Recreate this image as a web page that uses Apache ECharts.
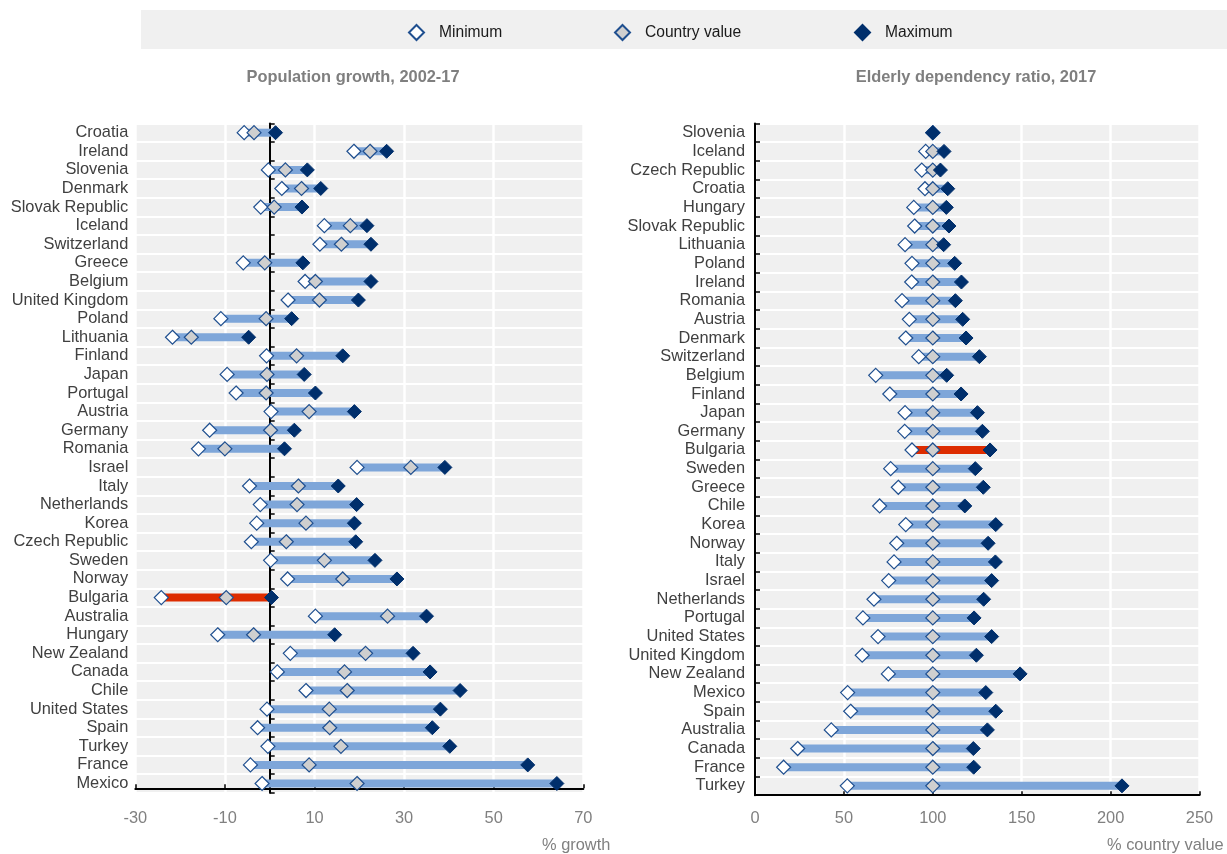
<!DOCTYPE html>
<html>
<head>
<meta charset="utf-8">
<script src="https://cdn.jsdelivr.net/npm/echarts@6/dist/echarts.min.js"></script>
<style>
  html, body { margin: 0; padding: 0; background: #fff; }
  #chart { width: 1227px; height: 854px; }
</style>
</head>
<body>
<div id="chart"></div>
<script>
// ---------------- DATA ----------------
const growthCategories = ['Croatia','Ireland','Slovenia','Denmark','Slovak Republic','Iceland','Switzerland','Greece','Belgium','United Kingdom','Poland','Lithuania','Finland','Japan','Portugal','Austria','Germany','Romania','Israel','Italy','Netherlands','Korea','Czech Republic','Sweden','Norway','Bulgaria','Australia','Hungary','New Zealand','Canada','Chile','United States','Spain','Turkey','France','Mexico'];
const growthMin     = [-5.7, 18.8, -0.3, 2.7, -2.0, 12.2, 11.2, -5.9, 7.9, 4.1, -10.9, -21.7, -0.7, -9.5, -7.5, 0.3, -13.4, -15.9, 19.5, -4.5, -2.1, -2.9, -4.1, 0.2, 4.0, -24.2, 10.2, -11.6, 4.6, 1.7, 8.1, -0.6, -2.7, -0.4, -4.3, -1.7];
const growthCountry = [-3.5, 22.4, 3.5, 7.1, 1.0, 18.0, 16.0, -1.1, 10.2, 11.1, -0.8, -17.5, 6.0, -0.6, -0.8, 8.8, 0.2, -10.0, 31.5, 6.4, 6.1, 8.1, 3.7, 12.2, 16.3, -9.7, 26.3, -3.6, 21.4, 16.7, 17.3, 13.3, 13.4, 15.9, 8.8, 19.5];
const growthMax     = [1.3, 26.1, 8.4, 11.4, 7.2, 21.7, 22.6, 7.4, 22.6, 19.8, 4.9, -4.7, 16.3, 7.7, 10.2, 18.9, 5.5, 3.3, 39.1, 15.3, 19.4, 18.9, 19.2, 23.5, 28.4, 0.4, 35.0, 14.5, 32.0, 35.8, 42.5, 38.1, 36.3, 40.2, 57.6, 64.1];

const elderlyCategories = ['Slovenia','Iceland','Czech Republic','Croatia','Hungary','Slovak Republic','Lithuania','Poland','Ireland','Romania','Austria','Denmark','Switzerland','Belgium','Finland','Japan','Germany','Bulgaria','Sweden','Greece','Chile','Korea','Norway','Italy','Israel','Netherlands','Portugal','United States','United Kingdom','New Zealand','Mexico','Spain','Australia','Canada','France','Turkey'];
const elderlyMin     = [100, 96.0, 93.8, 95.6, 89.3, 89.8, 84.4, 88.3, 88.1, 82.7, 86.8, 84.8, 92.1, 67.9, 75.8, 84.4, 84.2, 88.3, 76.3, 80.6, 70.1, 84.8, 79.7, 78.2, 75.2, 66.9, 60.7, 69.2, 60.3, 75.0, 52.1, 53.8, 42.9, 24.0, 16.1, 51.9];
const elderlyCountry = [100, 100, 100, 100, 100, 100, 100, 100, 100, 100, 100, 100, 100, 100, 100, 100, 100, 100, 100, 100, 100, 100, 100, 100, 100, 100, 100, 100, 100, 100, 100, 100, 100, 100, 100, 100];
const elderlyMax     = [100, 106.3, 104.3, 108.4, 107.6, 109.1, 106.1, 112.3, 116.1, 112.7, 116.8, 118.7, 126.2, 107.8, 115.9, 125.1, 127.9, 132.2, 123.9, 128.4, 118.0, 135.4, 131.1, 135.2, 133.1, 128.6, 123.2, 133.1, 124.5, 149.1, 129.8, 135.4, 130.7, 122.8, 123.0, 206.4];

const growthTicks  = [-30, -10, 10, 30, 50, 70];
const elderlyTicks = [0, 50, 100, 150, 200, 250];
const highlighted = ['Bulgaria'];
const seriesNames = ['Minimum', 'Country value', 'Maximum'];
const panelTitles = ['Population growth, 2002-17', 'Elderly dependency ratio, 2017'];
const axisNames = ['% growth', '% country value'];

// ---------------- FONT ----------------
function hasFont(name) {
  const ctx = document.createElement('canvas').getContext('2d');
  const t = 'United Kingdom mmmwwwiiilll 0123456789';
  ctx.font = '40px monospace';
  const a = ctx.measureText(t).width;
  ctx.font = "40px '" + name + "', monospace";
  const b = ctx.measureText(t).width;
  return Math.abs(a - b) > 0.5;
}
const narrow = hasFont('Liberation Sans Narrow');
const FONT = narrow ? "'Liberation Sans Narrow', 'Arial Narrow', sans-serif" : "'Liberation Sans', Arial, sans-serif";
const K = narrow ? 1 : 0.82;
const fs = v => Math.round(v * K * 10) / 10;

// ---------------- STYLE ----------------
const NAVY = '#002f6c';
const BORDER = '#1f4f8f';
const BLUE = '#7ea6d9';
const RED = '#dd2c00';
const GRAYFILL = '#cfcfcf';
const PLOTBG = '#f0f0f0';

const grids = [
  { left: 135.3, top: 123.4, width: 448, height: 669.4 },
  { left: 755, top: 123.4, width: 444.5, height: 671.8 }
];

function rangeRenderer(cats) {
  return function (params, api) {
    const idx = api.value(0);
    const p1 = api.coord([api.value(1), idx]);
    const p2 = api.coord([api.value(2), idx]);
    const h = 8;
    const isHi = highlighted.indexOf(cats[idx]) >= 0;
    return {
      type: 'rect',
      shape: { x: Math.min(p1[0], p2[0]), y: p1[1] - h / 2, width: Math.abs(p2[0] - p1[0]), height: h },
      style: { fill: isHi ? RED : BLUE }
    };
  };
}

function panelSeries(gi, cats, mins, vals, maxs) {
  const yIdx = gi === 0 ? 0 : 2;
  const rangeData = cats.map((c, i) => [i, mins[i], maxs[i]]);
  const pts = arr => arr.map((v, i) => [v, i]);
  const base = {
    type: 'scatter', xAxisIndex: gi, yAxisIndex: yIdx, symbol: 'diamond', symbolSize: 14,
    silent: true, animation: false
  };
  return [
    {
      type: 'custom', xAxisIndex: gi, yAxisIndex: yIdx, renderItem: rangeRenderer(cats),
      encode: { x: [1, 2], y: 0 }, data: rangeData, silent: true, animation: false, z: 2
    },
    Object.assign({}, base, { name: seriesNames[0], data: pts(mins), z: 3,
      itemStyle: { color: '#ffffff', borderColor: BORDER, borderWidth: 1.2, opacity: 1 } }),
    Object.assign({}, base, { name: seriesNames[1], data: pts(vals), z: 4,
      itemStyle: { color: GRAYFILL, borderColor: BORDER, borderWidth: 1.2, opacity: 1 } }),
    Object.assign({}, base, { name: seriesNames[2], data: pts(maxs), z: 5,
      itemStyle: { color: NAVY, borderColor: NAVY, borderWidth: 1, opacity: 1 } })
  ];
}

function xAxisFor(gi, ticks, offset, margin) {
  return {
    type: 'value', gridIndex: gi,
    min: ticks[0], max: ticks[ticks.length - 1], interval: ticks[1] - ticks[0],
    offset: offset,
    axisLine: { show: true, onZero: false, lineStyle: { color: '#000', width: 2 } },
    axisTick: { show: true, inside: true, length: 4, lineStyle: { color: '#000', width: 1.5 } },
    axisLabel: { show: true, margin: margin, color: '#808080', fontFamily: FONT, fontSize: fs(20),
      showMinLabel: true, showMaxLabel: true },
    splitLine: { show: true, lineStyle: { color: '#ffffff', width: 2.5 } }
  };
}

const labelCommon = { color: '#404040', fontFamily: FONT, fontSize: fs(20) };

const option = {
  backgroundColor: '#ffffff',
  animation: false,
  grid: grids.map(g => Object.assign({ show: true, backgroundColor: PLOTBG, borderWidth: 0, containLabel: false }, g)),
  legend: seriesNames.map((n, i) => ({
    data: [n], left: [403, 609, 849][i], top: 19, padding: 5, z: 10,
    itemWidth: 15, itemHeight: 15, selectedMode: false,
    textStyle: { color: '#1a1a1a', fontFamily: FONT, fontSize: fs(19), padding: [0, 0, 0, 10] }
  })),
  xAxis: [
    xAxisFor(0, growthTicks, -4.5, 22),
    xAxisFor(1, elderlyTicks, 0, 15)
  ],
  yAxis: [
    { type: 'category', gridIndex: 0, data: growthCategories, inverse: true, position: 'left',
      axisLine: { show: false, onZero: false }, axisTick: { show: false },
      axisLabel: Object.assign({ margin: 7, interval: 0 }, labelCommon),
      splitLine: { show: true, interval: 0, lineStyle: { color: '#ffffff', width: 2 } } },
    { type: 'category', gridIndex: 0, data: growthCategories, inverse: true, position: 'right',
      axisLine: { show: true, onZero: true, onZeroAxisIndex: 0, lineStyle: { color: '#000', width: 2 } },
      axisTick: { show: true, inside: false, length: 5, interval: 0, lineStyle: { color: '#000', width: 1.5 } },
      axisLabel: { show: false }, splitLine: { show: false } },
    { type: 'category', gridIndex: 1, data: elderlyCategories, inverse: true, position: 'left',
      axisLine: { show: true, onZero: false, lineStyle: { color: '#000', width: 2 } },
      axisTick: { show: true, inside: true, length: 5, interval: 0, lineStyle: { color: '#000', width: 1.5 } },
      axisLabel: Object.assign({ margin: 10, interval: 0 }, labelCommon),
      splitLine: { show: true, interval: 0, lineStyle: { color: '#ffffff', width: 2 } } }
  ],
  graphic: [
    { type: 'rect', z: -10, shape: { x: 141, y: 10, width: 1087, height: 39 }, style: { fill: PLOTBG } },
    { type: 'text', x: 353, y: 77, style: { text: panelTitles[0], fill: '#7f7f7f', align: 'center', verticalAlign: 'middle',
      font: 'bold ' + fs(20) + 'px ' + FONT } },
    { type: 'text', x: 976, y: 77, style: { text: panelTitles[1], fill: '#7f7f7f', align: 'center', verticalAlign: 'middle',
      font: 'bold ' + fs(20) + 'px ' + FONT } },
    { type: 'text', x: 542, y: 845, style: { text: axisNames[0], fill: '#808080', align: 'left', verticalAlign: 'middle',
      font: fs(20) + 'px ' + FONT } },
    { type: 'text', x: 1107, y: 845, style: { text: axisNames[1], fill: '#808080', align: 'left', verticalAlign: 'middle',
      font: fs(20) + 'px ' + FONT } }
  ],
  series: [].concat(
    panelSeries(0, growthCategories, growthMin, growthCountry, growthMax),
    panelSeries(1, elderlyCategories, elderlyMin, elderlyCountry, elderlyMax)
  )
};

const chart = echarts.init(document.getElementById('chart'), null, { renderer: 'canvas' });
chart.setOption(option);
</script>
</body>
</html>
